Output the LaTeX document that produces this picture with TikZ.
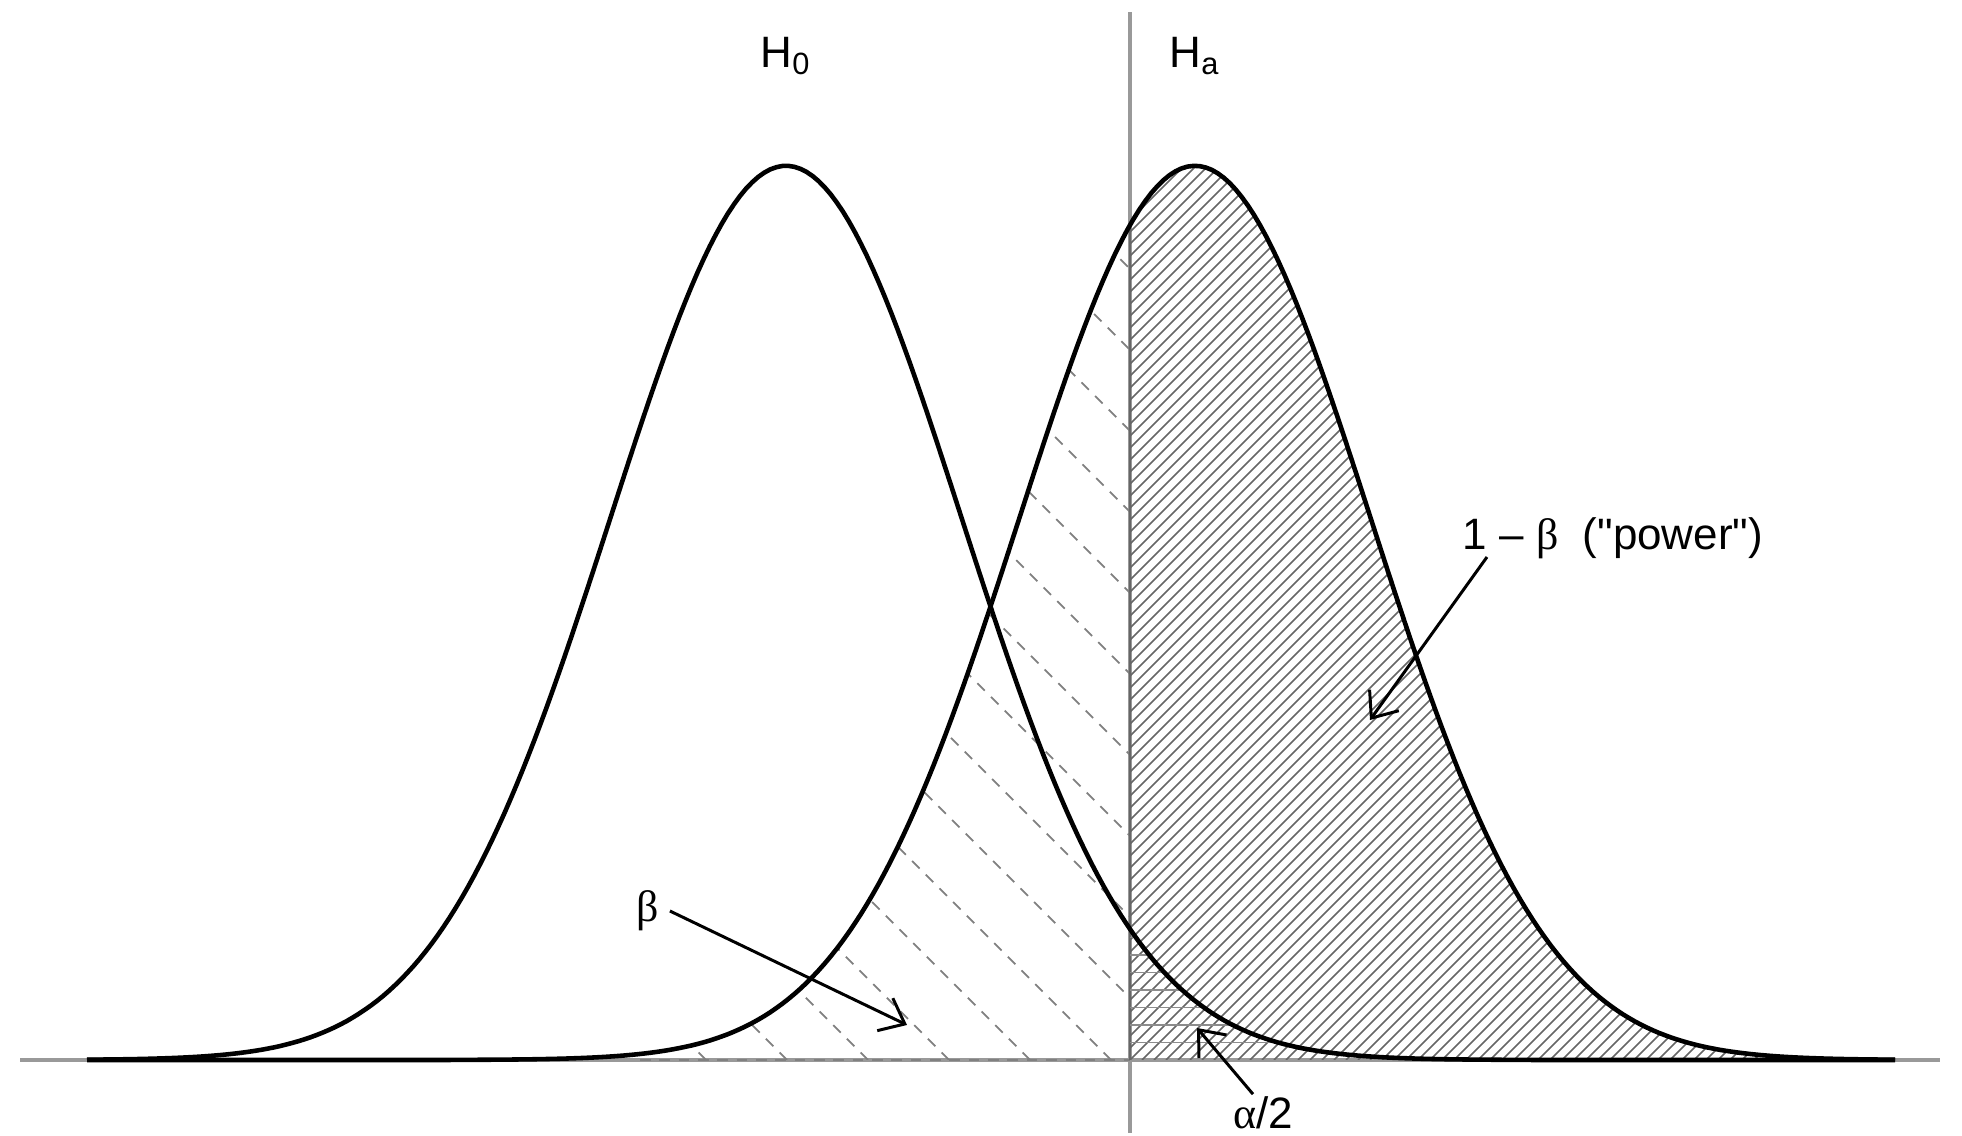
\documentclass[tikz,border=0pt]{standalone}
\usepackage{fontspec}
\setmainfont{Liberation Sans}[Ligatures=TeXOff]
\newfontfamily\grk{Liberation Serif}
\usepackage{tikz}
\usetikzlibrary{arrows.meta,calc}

\begin{document}
\begin{tikzpicture}[
  x=0.01cm, y=0.01cm,
  every node/.style={font=\fontsize{12.5}{15}\selectfont, inner sep=0pt},
  curve/.style={line width=1.3pt, black},
  axis/.style={line width=0.9pt, black!40},
  hatch/.style={line width=0.45pt, black!60},
  flathatch/.style={line width=0.5pt, black!45},
  dashhatch/.style={line width=0.5pt, black!50, dash pattern=on 3pt off 2.5pt},
  pointer/.style={line width=0.85pt, -{Straight Barb[length=2.2mm,width=3.6mm]}},
  declare function={
    nullpdf(\x)=76+894*exp(-0.5*((\x-786)/175.5)*((\x-786)/175.5));
    altpdf(\x)=76+894*exp(-0.5*((\x-1195)/175.5)*((\x-1195)/175.5));
  }
]
\useasboundingbox (0,0) rectangle (1962,1136);

% Axes
\draw[axis] (20,76) -- (1940,76);
\draw[axis] (1130,3) -- (1130,1124);

% beta region
\begin{scope}
  \clip plot[domain=640:1130, samples=100] (\x,{altpdf(\x)}) -- (1130,76) -- (640,76) -- cycle;
  \foreach \k in {-6,...,14}
    \draw[dashhatch] ({1111+81*\k},76) -- ++(-1200,1200);
\end{scope}
\draw[dashhatch] (640,76) -- (1130,76);

% power region
\begin{scope}
  \clip (1130,76) -- plot[domain=1130:1895, samples=150] (\x,{altpdf(\x)}) -- (1895,76) -- cycle;
  \foreach \k in {-78,...,64}
    \draw[hatch] ({1130+12*\k},76) -- ++(1100,1100);
\end{scope}
\draw[hatch] (1130,76) -- (1130,{altpdf(1130)});

% alpha/2 region
\begin{scope}
  \clip (1130,76) -- plot[domain=1130:1500, samples=80] (\x,{nullpdf(\x)}) -- (1500,76) -- cycle;
  \foreach \k in {1,...,7}
    \draw[flathatch] (1130,{76+17.5*\k}) -- (1500,{76+17.5*\k});
\end{scope}

% Densities
\draw[curve] plot[domain=87:1895, samples=300] (\x,{nullpdf(\x)});
\draw[curve] plot[domain=87:1895, samples=300] (\x,{altpdf(\x)});

% Labels
\node (hnull) at (786,1080) {H\textsubscript{0}};
\node (halt) at (1195,1080) {H\textsubscript{a}};
\node[anchor=west] (power) at (1462,598) {1 – {\grk β}\ \ ("power")};
\node (beta) at (648,225) {\grk β};
\node (alpha) at (1263,23) {{\grk α}/2};

% Pointers
\coordinate (betatip) at (907,111);
\coordinate (powertip) at (1370,416);
\coordinate (alphatip) at (1197,108);
\draw[pointer] ([xshift=0.1cm]beta.east) -- (betatip);
\draw[pointer] ([shift={(25,-19)}]power.west) -- (powertip);
\draw[pointer] ([xshift=-0.1cm,yshift=0.02cm]alpha.north) -- (alphatip);

\end{tikzpicture}
\end{document}
